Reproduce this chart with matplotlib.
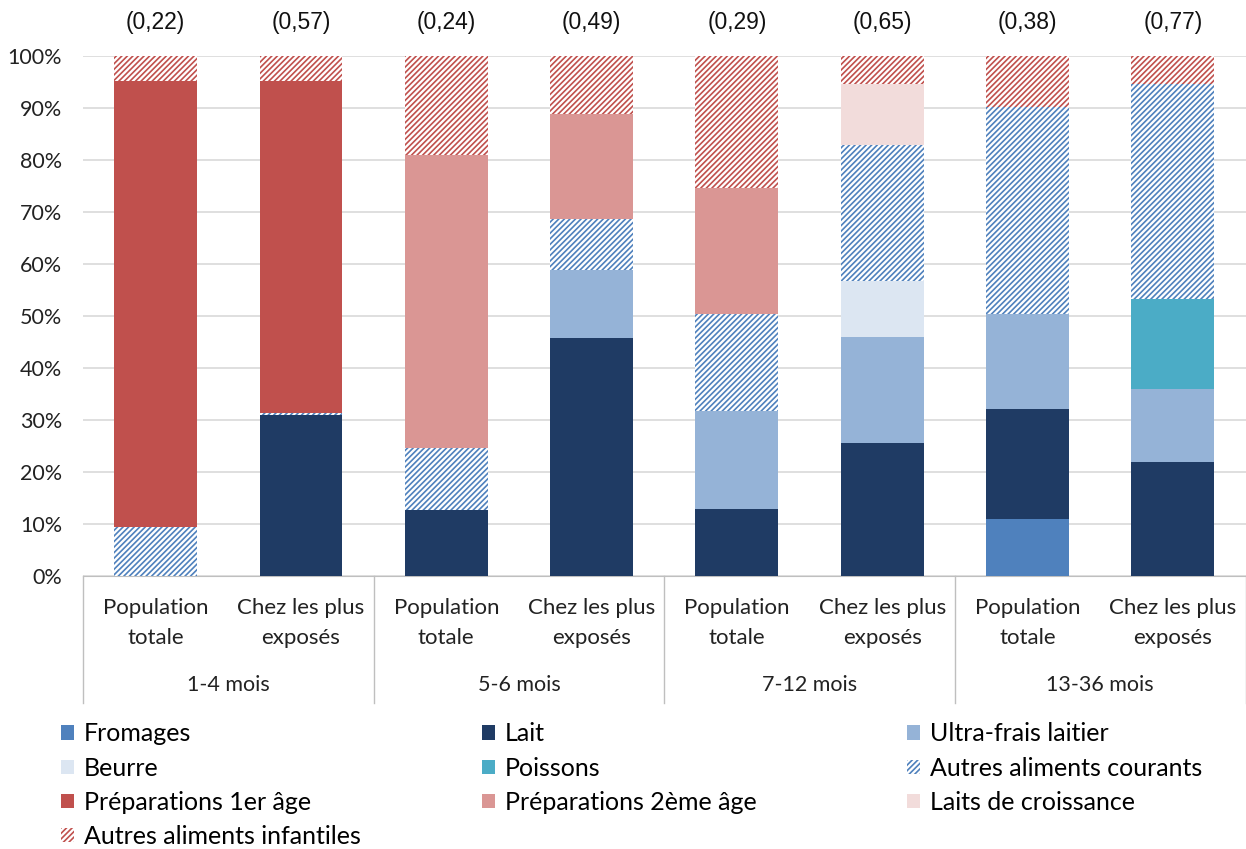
#!/usr/bin/env python3

# Imports

import matplotlib
matplotlib.use("Agg")
import matplotlib.pyplot as plt
from matplotlib.patches import Patch

# Data (share of exposure, % per bar, bottom to top)

groups = ["1-4 mois", "5-6 mois", "7-12 mois", "13-36 mois"]
subgroups = ["Population\ntotale", "Chez les plus\nexposés"]
top_labels = ["(0,22)", "(0,57)", "(0,24)", "(0,49)", "(0,29)", "(0,65)", "(0,38)", "(0,77)"]

fromages = [0, 0, 0, 0, 0, 0, 10.9, 0]
lait = [0, 31.0, 12.7, 45.8, 12.9, 25.5, 21.3, 22.0]
ultra_frais = [0, 0, 0, 13.0, 18.9, 20.5, 18.1, 13.9]
beurre = [0, 0, 0, 0, 0, 10.7, 0, 0]
poissons = [0, 0, 0, 0, 0, 0, 0, 17.4]
autres_courants = [9.4, 0.4, 11.9, 9.9, 18.5, 26.2, 39.8, 41.4]
prep_1er = [85.7, 63.7, 0, 0, 0, 0, 0, 0]
prep_2eme = [0, 0, 56.3, 20.1, 24.4, 0, 0, 0]
laits_croissance = [0, 0, 0, 0, 0, 11.8, 0, 0]
autres_infantiles = [4.9, 4.9, 19.1, 11.2, 25.3, 5.3, 9.9, 5.3]

# Series: (label, values, colour, hatched)
series = [
	("Fromages", fromages, "#4f81bd", False),
	("Lait", lait, "#1f3b64", False),
	("Ultra-frais laitier", ultra_frais, "#95b3d7", False),
	("Beurre", beurre, "#dce6f2", False),
	("Poissons", poissons, "#4bacc6", False),
	("Autres aliments courants", autres_courants, "#4f81bd", True),
	("Préparations 1er âge", prep_1er, "#c0504d", False),
	("Préparations 2ème âge", prep_2eme, "#da9694", False),
	("Laits de croissance", laits_croissance, "#f2dcdb", False),
	("Autres aliments infantiles", autres_infantiles, "#c0504d", True),
]

TXT = ["Lato", "DejaVu Sans"]
plt.rcParams["hatch.linewidth"] = 1.2

fig = plt.figure(figsize=(12.46, 8.49), dpi=100)
ax = fig.add_axes([0.0666, 0.3216, 0.933, 0.6125])

x = list(range(len(lait)))
bottom = [0.0] * len(x)
handles = {}
for label, vals, color, hatched in series:
	if hatched:
		ax.bar(x, vals, 0.57, bottom=bottom, facecolor="white",
			edgecolor=color, hatch="//////", linewidth=0, zorder=3)
		handles[label] = Patch(facecolor="white", edgecolor=color, hatch="//////", linewidth=0)
	else:
		ax.bar(x, vals, 0.57, bottom=bottom, color=color, linewidth=0, zorder=3)
		handles[label] = Patch(facecolor=color, linewidth=0)
	bottom = [b + v for b, v in zip(bottom, vals)]

ax.set_xlim(-0.5, len(x) - 0.5)
ax.set_ylim(0, 100)
ax.set_yticks(range(0, 101, 10))
ax.set_yticklabels([f"{v}%" for v in range(0, 101, 10)], family=TXT, fontsize=15.5)
ax.tick_params(axis="y", length=0, pad=15, labelcolor="#222222")
ax.set_xticks([])
ax.yaxis.grid(True, color="#d9d9d9", linewidth=1.2, zorder=0)
for s in ["top", "right", "left"]:
	ax.spines[s].set_visible(False)
ax.spines["bottom"].set_color("#bfbfbf")

# Labels above bars
for xi, t in zip(x, top_labels):
	ax.text(xi, 1.065, t, transform=ax.get_xaxis_transform(), ha="center", va="center",
		family=["Liberation Sans", "DejaVu Sans"], fontsize=16.5, color="#111111")

# Two-level category axis
trans = ax.get_xaxis_transform()
for xi in x:
	ax.text(xi, -0.09, subgroups[xi % 2], transform=trans, ha="center", va="center",
		family=TXT, fontsize=16, linespacing=1.62, color="#222222")
for gi, g in enumerate(groups):
	ax.text(gi * 2 + 0.5, -0.21, g, transform=trans, ha="center", va="center",
		family=TXT, fontsize=15.5, color="#222222")
for sx in [-0.5, 1.5, 3.5, 5.5, 7.5]:
	ax.plot([sx, sx], [0, -0.245], transform=trans, color="#bfbfbf", linewidth=1, clip_on=False)

# Legend in three columns
cols = [
	["Fromages", "Beurre", "Préparations 1er âge", "Autres aliments infantiles"],
	["Lait", "Poissons", "Préparations 2ème âge"],
	["Ultra-frais laitier", "Autres aliments courants", "Laits de croissance"],
]
for cx, names in zip([0.041, 0.379, 0.720], cols):
	fig.legend([handles[n] for n in names], names, loc="upper left",
		bbox_to_anchor=(cx, 0.161), frameon=False, handlelength=0.5, handleheight=0.5,
		handletextpad=0.4, labelspacing=0.45, borderaxespad=0,
		prop={"family": TXT, "size": 18})

fig.savefig("out.png", dpi=100)
